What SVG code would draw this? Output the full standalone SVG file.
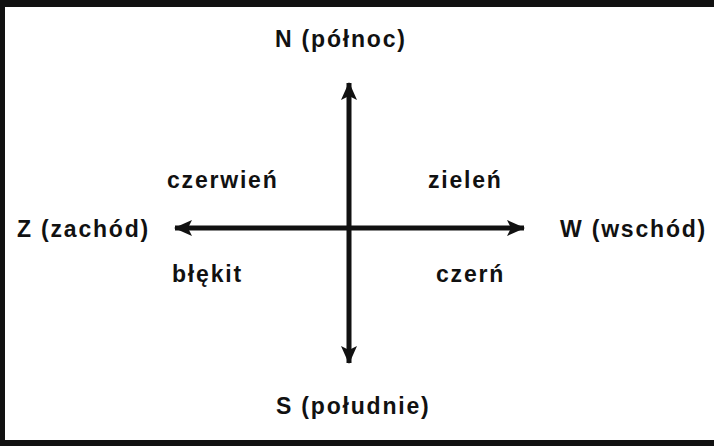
<svg xmlns="http://www.w3.org/2000/svg" width="714" height="446" viewBox="0 0 714 446">
<style>
.lbl{font-family:"Liberation Sans",Arial,sans-serif;font-size:23px;font-weight:bold;letter-spacing:1.8px;fill:#111}
.ax{stroke:#111;stroke-width:5;fill:none}
</style>
<defs>
<marker id="ah" viewBox="0 0 18 16" refX="17" refY="8" markerWidth="18" markerHeight="16" markerUnits="userSpaceOnUse" orient="auto-start-reverse">
<path d="M0,0 L18,8 L0,16 L4,8 Z" fill="#111"/>
</marker>
</defs>
<rect width="714" height="446" fill="#fff"/>
<g id="frame" fill="#111">
<rect x="0" y="0" width="714" height="7"/>
<rect x="0" y="0" width="5" height="446"/>
<rect x="0" y="440" width="714" height="6"/>
</g>
<g id="connectors">
<line class="ax" x1="349" y1="83" x2="349" y2="363" marker-start="url(#ah)" marker-end="url(#ah)"/>
<line class="ax" x1="175" y1="228" x2="524" y2="228" marker-start="url(#ah)" marker-end="url(#ah)"/>
</g>
<g id="north"><text class="lbl" x="275" y="47">N (północ)</text></g>
<g id="west"><text class="lbl" x="17" y="237">Z (zachód)</text></g>
<g id="east"><text class="lbl" x="560" y="237">W (wschód)</text></g>
<g id="south"><text class="lbl" x="276" y="414">S (południe)</text></g>
<g id="nw"><text class="lbl" x="167" y="188">czerwień</text></g>
<g id="ne"><text class="lbl" x="428" y="188">zieleń</text></g>
<g id="sw"><text class="lbl" x="172" y="282">błękit</text></g>
<g id="se"><text class="lbl" x="436" y="282">czerń</text></g>
</svg>
